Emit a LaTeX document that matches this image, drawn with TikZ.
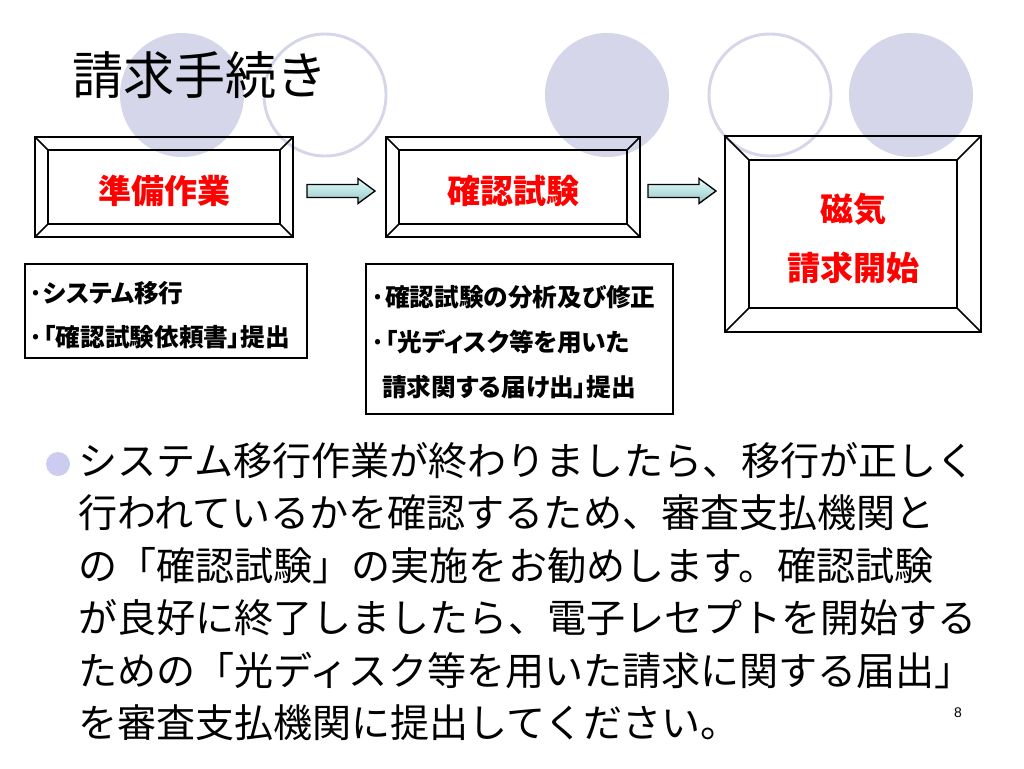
\documentclass[tikz,border=0pt]{standalone}
\usepackage{fontspec}
\setmainfont{Noto Sans CJK JP}
\newfontfamily\propjp[RawFeature=+palt]{Noto Sans CJK JP}
\newfontfamily\numfont{Liberation Sans}

\definecolor{discblue}{RGB}{214,214,234}
\definecolor{dotblue}{RGB}{204,204,240}
\definecolor{arrtop}{RGB}{228,255,255}
\definecolor{arrbot}{RGB}{150,196,196}

\tikzset{
  disc/.style={fill=discblue},
  ring/.style={draw=discblue, line width=2.2pt},
  frame/.style={draw=black, line width=1.1pt},
  memobox/.style={draw=black, line width=2.2pt},
  lbl/.style={text=red, inner sep=0pt, font=\fontsize{24.75pt}{30pt}\selectfont\bfseries},
  memo/.style={inner sep=0pt, align=left, font=\propjp\fontsize{18.5pt}{33.5pt}\selectfont\bfseries},
  body/.style={inner sep=0pt, font=\fontsize{29.3pt}{34pt}\selectfont},
  fatarrow/.pic={
    \shade[top color=arrtop, bottom color=arrbot, draw=black, line width=1pt]
      (0,-6.5) -- (51,-6.5) -- (51,-12.5) -- (68,0) -- (51,12.5) -- (51,6.5) -- (0,6.5) -- cycle;
  }
}

\begin{document}
\begin{tikzpicture}[x=0.75pt, y=-0.75pt]
  \useasboundingbox (0,0) rectangle (1024,768);

  % circles behind the title
  \foreach \cx in {182,607,911}
    \fill[disc] (\cx,95) circle [radius=62];
  \foreach \cx in {325,770}
    \draw[ring] (\cx,95) circle [radius=61];

  \node[inner sep=0pt, font=\fontsize{38.3pt}{46pt}\selectfont] (title) at (200,75) {請求手続き};

  % bevelled frames
  \foreach \xa/\ya/\xb/\yb/\d in {35/137/293/237/13, 386/137/640/237/13, 725/136/981/332/24} {
    \draw[frame] (\xa,\ya) rectangle (\xb,\yb);
    \draw[frame] (\xa+\d,\ya+\d) rectangle (\xb-\d,\yb-\d);
    \draw[frame] (\xa,\ya) -- (\xa+\d,\ya+\d) (\xb,\ya) -- (\xb-\d,\ya+\d)
      (\xa,\yb) -- (\xa+\d,\yb-\d) (\xb,\yb) -- (\xb-\d,\yb-\d);
  }
  \node[lbl] (prep) at (164,191) {準備作業};
  \node[lbl] (check) at (513,191) {確認試験};
  \node[lbl] (mag) at (853,209) {磁気};
  \node[lbl] (start) at (853,268) {請求開始};

  \pic at (307,191) {fatarrow};
  \pic at (648,191) {fatarrow};

  % notes under the frames
  \draw[memobox] (25,264) rectangle (307,358);
  \node[memo, anchor=west] (notea) at (28,315) {·システム移行\\·「確認試験依頼書」提出};
  \draw[memobox] (366,264) rectangle (673,414);
  \node[memo, anchor=west] (noteb) at (370,342) {·確認試験の分析及び修正\\·「光ディスク等を用いた\\\hspace{9pt}請求関する届け出」提出};

  % bullet text
  \fill[dotblue] (58,464) circle [radius=12];
  \foreach \t [count=\i from 0] in {システム移行作業が終わりましたら、移行が正しく,
      行われているかを確認するため、審査支払機関と,
      の「確認試験」の実施をお勧めします。確認試験,
      が良好に終了しましたら、電子レセプトを開始する,
      ための「光ディスク等を用いた請求に関する届出」,
      を審査支払機関に提出してください。}
    \node[body, anchor=base west] (line\i) at (78,475+52.5*\i) {\t};

  \node[inner sep=0pt, font=\numfont\fontsize{10.5pt}{12pt}\selectfont] (page) at (958,713) {8};
\end{tikzpicture}
\end{document}
